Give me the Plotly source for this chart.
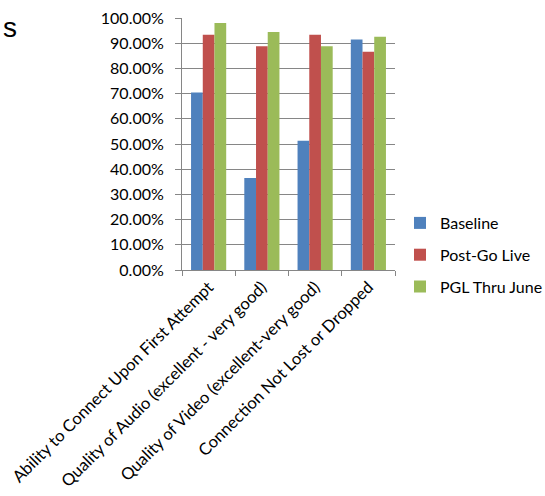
import plotly.graph_objects as go

categories = [
    "Ability to Connect Upon First Attempt",
    "Quality of Audio (excellent - very good)",
    "Quality of Video (excellent-very good)",
    "Connection Not Lost or Dropped",
]
baseline = [0.704, 0.365, 0.513, 0.915]
post_go_live = [0.934, 0.888, 0.934, 0.866]
pgl_thru_june = [0.980, 0.944, 0.888, 0.926]
series_names = ["Baseline", "Post-Go Live", "PGL Thru June"]
colors = ["#4F81BD", "#C0504D", "#9BBB59"]

FONT = "Lato"
W, H = 545, 496
L, R, T, B = 182, 150, 18, 226

fig = go.Figure()
for name, vals, col in zip(series_names, [baseline, post_go_live, pgl_thru_june], colors):
    fig.add_trace(go.Bar(x=categories, y=vals, name=name, marker_color=col,
                         marker_line_width=0, legendgroup=name))

pw = W - L - R
ph = H - T - B

fig.update_layout(
    width=W, height=H,
    margin=dict(l=L, r=R, t=T, b=B, pad=0, autoexpand=False),
    paper_bgcolor="white", plot_bgcolor="white",
    barmode="group", bargap=0.34, bargroupgap=0,
    font=dict(family=FONT, size=16, color="black"),
    showlegend=True,
    legend=dict(x=1 + 5 / pw, y=1 - (255 - T) / ph, xanchor="left", yanchor="middle",
                font=dict(family=FONT, size=16), itemwidth=30,
                tracegroupgap=8, traceorder="grouped"),
    title=dict(text="s", x=3 / W, y=1 - 27 / H, xref="container", yref="container",
               xanchor="left", yanchor="middle",
               font=dict(family="Liberation Sans", size=28, color="black")),
)

fig.update_xaxes(
    tickangle=-45, ticks="outside", tickson="boundaries", ticklen=5,
    tickcolor="#868686", showline=True, linecolor="#868686", linewidth=1,
    showgrid=False, tickfont=dict(family=FONT, size=16.6), automargin=False,
)
fig.update_yaxes(
    range=[0, 1], dtick=0.1, tickformat=".2%", ticks="outside", ticklen=6,
    tickcolor="#868686", showline=True, linecolor="#868686", linewidth=1,
    showgrid=True, gridcolor="#868686", gridwidth=1, zeroline=False,
    tickfont=dict(family=FONT, size=16), ticklabelstandoff=8, automargin=False,
)

fig.write_html("out.html")
